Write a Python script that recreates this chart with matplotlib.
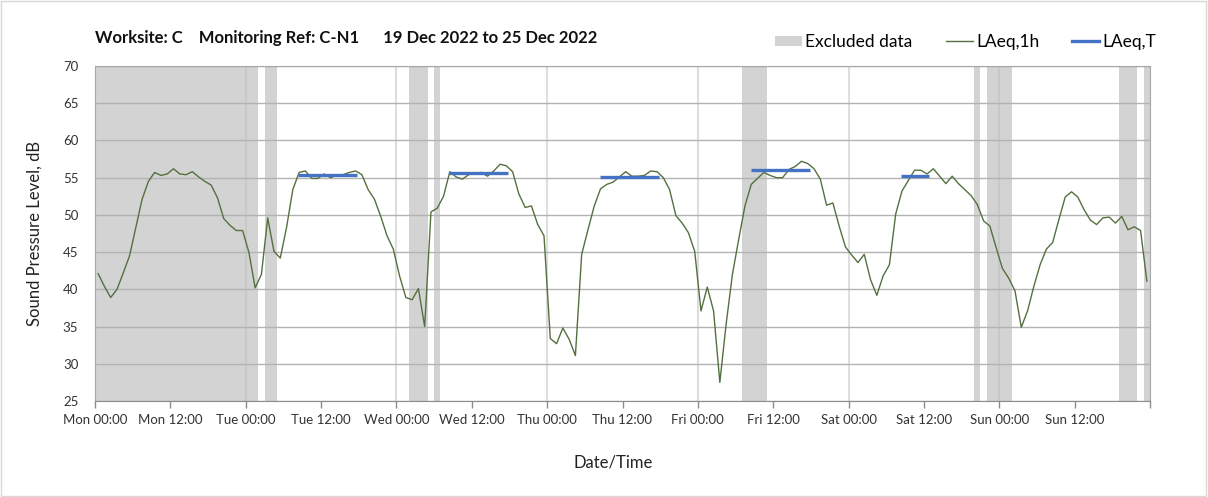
import matplotlib
matplotlib.use("Agg")
import matplotlib.pyplot as plt
from matplotlib.patches import Patch, Rectangle
from matplotlib.lines import Line2D
import numpy as np

plt.rcParams['font.family'] = ['Lato', 'DejaVu Sans']

# hourly LAeq,1h values, Mon 00:00 -> Sun 23:00
laeq_1h = [
    42.1, 40.4, 38.9, 40.0, 42.2, 44.5, 48.3, 52.1, 54.5, 55.7, 55.3, 55.5, 56.2, 55.5, 55.4,
    55.8, 55.1, 54.5, 54.0, 52.3, 49.5, 48.6, 47.9, 47.9, 45.0, 40.2, 42.0, 49.6, 45.1,
    44.2, 48.3, 53.4, 55.7, 55.9, 54.9, 54.9, 55.5, 55.0, 55.3, 55.4, 55.7, 55.9, 55.4,
    53.4, 52.1, 49.8, 47.2, 45.4, 41.8, 38.9, 38.6, 40.1, 35.0, 50.4, 50.9, 52.5, 55.8,
    55.1, 54.8, 55.4, 55.6, 55.7, 55.2, 55.9, 56.8, 56.6, 55.8, 52.8, 51.0, 51.2, 48.7,
    47.2, 33.4, 32.7, 34.8, 33.3, 31.1, 44.7, 48.0, 51.2, 53.5, 54.1, 54.4, 55.1,
    55.8, 55.2, 55.2, 55.3, 55.9, 55.8, 55.0, 53.4, 49.9, 48.9, 47.6, 45.1, 37.1, 40.3,
    37.1, 27.5, 35.3, 42.0, 46.7, 51.2, 54.1, 54.9, 55.7, 55.3, 55.0, 55.0, 56.1, 56.5,
    57.2, 56.9, 56.2, 54.8, 51.3, 51.6, 48.5, 45.7, 44.6, 43.6, 44.7, 41.3, 39.2, 41.8,
    43.3, 50.1, 53.2, 54.6, 56.0, 56.0, 55.5, 56.2, 55.2, 54.2, 55.2, 54.2, 53.4, 52.6,
    51.4, 49.2, 48.5, 45.6, 42.8, 41.5, 39.8, 34.9, 37.1, 40.4, 43.3, 45.4, 46.3, 49.4,
    52.4, 53.1, 52.4, 50.7, 49.3, 48.7, 49.6, 49.7, 48.9, 49.8, 48.0, 48.4, 47.9, 41.1,
]

# excluded periods (hours from Mon 00:00)
excl_start = [0, 27, 50, 54, 103, 140, 142, 163, 167]
excl_end = [26, 29, 53, 55, 107, 141, 146, 166, 168]

# LAeq,T daytime values (hours from Mon 00:00)
laeqT_start = [32.4, 56.4, 80.4, 104.4, 128.4]
laeqT_end = [41.7, 65.8, 89.8, 113.8, 132.75]
laeqT_value = [55.4, 55.6, 55.1, 56.0, 55.2]

days = ['Mon', 'Tue', 'Wed', 'Thu', 'Fri', 'Sat', 'Sun']
tick_labels = []
for d in days:
    tick_labels += [d + ' 00:00', d + ' 12:00']
tick_labels.append('')

hours = np.arange(len(laeq_1h)) + 0.5

fig = plt.figure(figsize=(12.08, 4.97), dpi=100)
ax = fig.add_axes([95 / 1208, 96 / 497, 1055 / 1208, 335 / 497])

for s, e in zip(excl_start, excl_end):
    ax.axvspan(s, e, color='#d3d3d3', lw=0, zorder=0.2)

ax.plot(hours, laeq_1h, color='#55703f', lw=1.0, zorder=3)
ax.hlines(laeqT_value, laeqT_start, laeqT_end, color='#4472c4', lw=2.4, zorder=4)

ax.set_xlim(0, 168)
ax.set_ylim(25, 70)
ax.set_yticks(np.arange(25, 71, 5))
ax.set_xticks(np.arange(0, 169, 12))
ax.set_xticklabels(tick_labels)

ax.set_axisbelow(True)
ax.yaxis.grid(True, color='#b3b3b3', lw=1.0, zorder=0.5)
for x in range(24, 168, 24):
    ax.axvline(x, color='#bfbfbf', alpha=0.5, lw=1.5, zorder=0.5)

ax.tick_params(axis='y', length=0, pad=12, labelsize=9.5, labelcolor='#333333')
ax.tick_params(axis='x', length=5, width=1, color='#8c8c8c', pad=4, labelsize=9.5,
               labelcolor='#333333')
for sp in ax.spines.values():
    sp.set_color('#a6a6a6')
ax.spines['bottom'].set_color('#8c8c8c')

fig.text(95 / 1208, 1 - 38 / 497,
         'Worksite: C    Monitoring Ref: C-N1      19 Dec 2022 to 25 Dec 2022',
         fontsize=12, fontweight='bold', va='center', ha='left', color='#111111')
fig.text(35 / 1208, 1 - 233 / 497, 'Sound Pressure Level, dB', rotation=90,
         fontsize=12, va='center', ha='center', color='#222222')
fig.text(613 / 1208, 1 - 462 / 497, 'Date/Time', fontsize=12, va='center',
         ha='center', color='#222222')

handles = [
    Patch(facecolor='#d3d3d3', edgecolor='none'),
    Line2D([0], [0], color='#55703f', lw=1.0),
    Line2D([0], [0], color='#4472c4', lw=2.4),
]
fig.legend(handles, ['Excluded data', 'LAeq,1h', 'LAeq,T'], loc='center right',
           bbox_to_anchor=(1172 / 1208, 1 - 42 / 497), ncol=3, frameon=False,
           fontsize=12.5, handlelength=1.55, handletextpad=0.2, columnspacing=1.9,
           handleheight=0.5)

fig.patches.append(Rectangle((0.001, 0.002), 0.997, 0.996, transform=fig.transFigure,
                             fill=False, edgecolor='#d9d9d9', lw=1))

fig.savefig('out.png', dpi=100)
